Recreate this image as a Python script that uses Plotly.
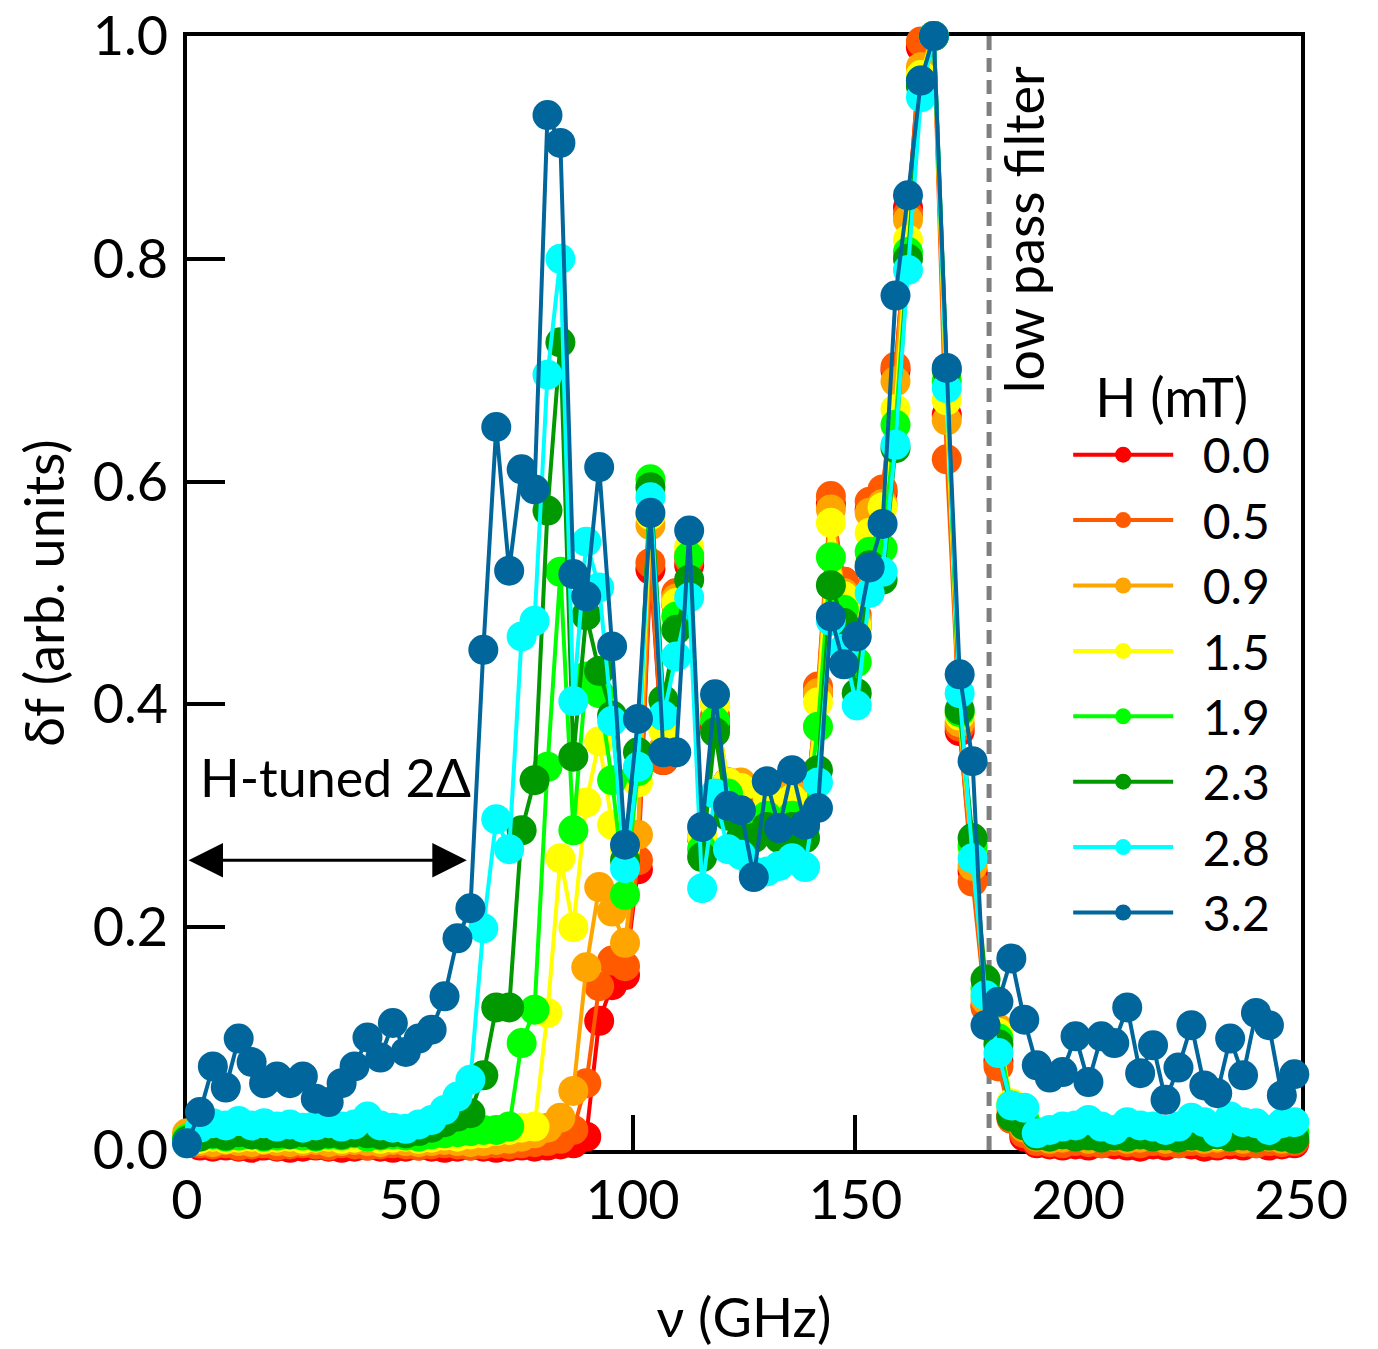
import plotly.graph_objects as go

freq = [0.0, 2.9, 5.8, 8.7, 11.6, 14.5, 17.3, 20.2, 23.1, 26.0,
        28.9, 31.8, 34.7, 37.6, 40.5, 43.4, 46.2, 49.1, 52.0, 54.9,
        57.8, 60.7, 63.6, 66.5, 69.4, 72.3, 75.1, 78.0, 80.9, 83.8,
        86.7, 89.6, 92.5, 95.4, 98.3, 101.2, 104.0, 106.9, 109.8, 112.7,
        115.6, 118.5, 121.4, 124.3, 127.2, 130.1, 132.9, 135.8, 138.7, 141.6,
        144.5, 147.4, 150.3, 153.2, 156.1, 159.0, 161.8, 164.7, 167.6, 170.5,
        173.4, 176.3, 179.2, 182.1, 185.0, 187.9, 190.7, 193.6, 196.5, 199.4,
        202.3, 205.2, 208.1, 211.0, 213.9, 216.8, 219.6, 222.5, 225.4, 228.3,
        231.2, 234.1, 237.0, 239.9, 242.8, 245.7, 248.5]

h_labels = ["0.0", "0.5", "0.9", "1.5", "1.9", "2.3", "2.8", "3.2"]
colors = ["#ff0000", "#ff5a00", "#ffa500", "#ffff00", "#00ff00", "#009900", "#00ffff", "#00669b"]

df_00 = [0.008, 0.004, 0.003, 0.004, 0.003, 0.002, 0.004, 0.003, 0.002, 0.003,
         0.004, 0.003, 0.002, 0.003, 0.004, 0.003, 0.002, 0.003, 0.004, 0.003,
         0.002, 0.003, 0.004, 0.003, 0.002, 0.003, 0.004, 0.003, 0.004, 0.005,
         0.006, 0.012, 0.116, 0.148, 0.157, 0.252, 0.521, 0.350, 0.490, 0.525,
         0.280, 0.380, 0.330, 0.320, 0.300, 0.325, 0.300, 0.320, 0.300, 0.410,
         0.580, 0.510, 0.470, 0.575, 0.590, 0.700, 0.846, 0.990, 1.000, 0.660,
         0.376, 0.250, 0.130, 0.080, 0.030,
         0.012, 0.006, 0.005, 0.004, 0.005, 0.004, 0.006, 0.005, 0.004, 0.003,
         0.005, 0.004, 0.006, 0.005, 0.003, 0.004, 0.005, 0.004, 0.006, 0.004,
         0.005, 0.006]

df_05 = [0.010, 0.006, 0.005, 0.006, 0.004, 0.005, 0.006, 0.004, 0.005, 0.006,
         0.005, 0.004, 0.006, 0.005, 0.004, 0.005, 0.006, 0.005, 0.004, 0.005,
         0.006, 0.005, 0.004, 0.005, 0.006, 0.005, 0.006, 0.007, 0.008, 0.010,
         0.018, 0.060, 0.147, 0.170, 0.165, 0.260, 0.527, 0.350, 0.500, 0.530,
         0.280, 0.390, 0.330, 0.325, 0.310, 0.330, 0.305, 0.325, 0.300, 0.416,
         0.587, 0.510, 0.480, 0.582, 0.593, 0.703, 0.840, 0.995, 1.000, 0.620,
         0.380, 0.241, 0.128, 0.075, 0.028,
         0.015, 0.008, 0.007, 0.006, 0.008, 0.007, 0.006, 0.008, 0.007, 0.006,
         0.008, 0.007, 0.006, 0.008, 0.007, 0.006, 0.008, 0.007, 0.006, 0.008,
         0.007, 0.008]

df_09 = [0.015, 0.008, 0.007, 0.009, 0.008, 0.007, 0.009, 0.008, 0.007, 0.008,
         0.009, 0.007, 0.008, 0.009, 0.008, 0.007, 0.009, 0.008, 0.007, 0.008,
         0.009, 0.008, 0.007, 0.008, 0.009, 0.010, 0.012, 0.015, 0.020, 0.029,
         0.053, 0.164, 0.236, 0.214, 0.186, 0.283, 0.561, 0.360, 0.495, 0.535,
         0.280, 0.400, 0.330, 0.330, 0.300, 0.320, 0.300, 0.320, 0.300, 0.410,
         0.575, 0.500, 0.475, 0.572, 0.580, 0.690, 0.835, 0.972, 1.000, 0.655,
         0.384, 0.255, 0.135, 0.109, 0.035,
         0.020, 0.012, 0.010, 0.011, 0.012, 0.010, 0.011, 0.012, 0.010, 0.011,
         0.012, 0.010, 0.011, 0.012, 0.010, 0.011, 0.012, 0.010, 0.011, 0.012,
         0.010, 0.012]

df_15 = [0.010, 0.010, 0.012, 0.010, 0.011, 0.012, 0.010, 0.011, 0.012, 0.010,
         0.011, 0.012, 0.010, 0.011, 0.012, 0.010, 0.011, 0.012, 0.010, 0.011,
         0.013, 0.012, 0.014, 0.015, 0.017, 0.018, 0.020, 0.021, 0.123, 0.262,
         0.200, 0.312, 0.367, 0.292, 0.270, 0.330, 0.570, 0.377, 0.491, 0.541,
         0.282, 0.400, 0.330, 0.325, 0.300, 0.320, 0.300, 0.315, 0.300, 0.402,
         0.563, 0.497, 0.470, 0.554, 0.577, 0.665, 0.817, 0.965, 1.000, 0.673,
         0.390, 0.270, 0.140, 0.105, 0.042,
         0.025, 0.015, 0.013, 0.014, 0.015, 0.013, 0.014, 0.016, 0.013, 0.015,
         0.014, 0.013, 0.015, 0.014, 0.016, 0.013, 0.015, 0.014, 0.013, 0.015,
         0.014, 0.015]

df_19 = [0.010, 0.013, 0.014, 0.012, 0.013, 0.014, 0.012, 0.013, 0.015, 0.013,
         0.012, 0.014, 0.013, 0.015, 0.012, 0.013, 0.014, 0.013, 0.012, 0.014,
         0.015, 0.016, 0.017, 0.018, 0.018, 0.021, 0.096, 0.126, 0.344, 0.519,
         0.287, 0.425, 0.410, 0.332, 0.229, 0.340, 0.602, 0.390, 0.479, 0.533,
         0.270, 0.385, 0.320, 0.300, 0.290, 0.300, 0.290, 0.300, 0.290, 0.380,
         0.532, 0.485, 0.438, 0.537, 0.540, 0.651, 0.806, 0.960, 1.000, 0.690,
         0.393, 0.273, 0.145, 0.100, 0.040,
         0.028, 0.016, 0.015, 0.017, 0.016, 0.015, 0.017, 0.016, 0.015, 0.017,
         0.016, 0.015, 0.017, 0.016, 0.015, 0.017, 0.016, 0.015, 0.017, 0.016,
         0.015, 0.016]

df_23 = [0.008, 0.012, 0.015, 0.013, 0.016, 0.014, 0.013, 0.015, 0.014, 0.016,
         0.013, 0.015, 0.014, 0.016, 0.015, 0.014, 0.016, 0.015, 0.017, 0.020,
         0.025, 0.030, 0.033, 0.067, 0.128, 0.128, 0.287, 0.332, 0.574, 0.725,
         0.353, 0.480, 0.430, 0.390, 0.260, 0.357, 0.595, 0.404, 0.467, 0.512,
         0.263, 0.375, 0.300, 0.280, 0.280, 0.290, 0.280, 0.290, 0.280, 0.341,
         0.507, 0.473, 0.410, 0.525, 0.512, 0.630, 0.800, 0.955, 1.000, 0.700,
         0.395, 0.280, 0.153, 0.095, 0.030,
         0.022, 0.013, 0.012, 0.014, 0.012, 0.013, 0.011, 0.013, 0.012, 0.014,
         0.012, 0.013, 0.011, 0.013, 0.012, 0.014, 0.012, 0.013, 0.011, 0.013,
         0.012, 0.010]

df_28 = [0.006, 0.020, 0.024, 0.022, 0.026, 0.022, 0.024, 0.021, 0.023, 0.020,
         0.022, 0.024, 0.021, 0.023, 0.030, 0.022, 0.020, 0.019, 0.023, 0.027,
         0.036, 0.048, 0.063, 0.199, 0.297, 0.270, 0.461, 0.475, 0.696, 0.800,
         0.403, 0.546, 0.505, 0.385, 0.253, 0.344, 0.586, 0.390, 0.443, 0.496,
         0.235, 0.320, 0.270, 0.265, 0.250, 0.250, 0.255, 0.262, 0.254, 0.330,
         0.475, 0.450, 0.399, 0.500, 0.519, 0.633, 0.790, 0.945, 1.000, 0.684,
         0.410, 0.262, 0.139, 0.087,
         0.040, 0.038, 0.015, 0.018, 0.021, 0.022, 0.027, 0.021, 0.018, 0.025,
         0.022, 0.021, 0.018, 0.021, 0.029, 0.025, 0.016, 0.030, 0.025, 0.024,
         0.018, 0.024, 0.025]

df_32 = [0.006, 0.034, 0.075, 0.056, 0.100, 0.079, 0.060, 0.066, 0.060, 0.066,
         0.046, 0.043, 0.060, 0.075, 0.101, 0.083, 0.114, 0.088, 0.100, 0.108,
         0.138, 0.190, 0.217, 0.449, 0.649, 0.520, 0.611, 0.593, 0.929, 0.904,
         0.517, 0.497, 0.613, 0.452, 0.274, 0.387, 0.572, 0.357, 0.357, 0.556,
         0.290, 0.409, 0.309, 0.305, 0.245, 0.331, 0.289, 0.341, 0.292, 0.307,
         0.479, 0.436, 0.461, 0.523, 0.562, 0.767, 0.857, 0.960, 1.000, 0.702,
         0.427, 0.349, 0.112, 0.133, 0.172, 0.117, 0.076, 0.065, 0.070, 0.102,
         0.061, 0.102, 0.096, 0.128, 0.069, 0.094, 0.045, 0.074, 0.112, 0.058,
         0.051, 0.100, 0.067, 0.123, 0.112, 0.049, 0.068]

series = [df_00, df_05, df_09, df_15, df_19, df_23, df_28, df_32]

FONT = "Lato, 'Liberation Sans', Arial, sans-serif"
NBSP = "\u00a0\u00a0"

fig = go.Figure()
for lab, col, ys in zip(h_labels, colors, series):
    fig.add_trace(go.Scatter(
        x=freq, y=ys, mode="lines+markers", name=NBSP + lab,
        line=dict(color=col, width=4),
        marker=dict(color=col, size=30, line=dict(width=0)),
        cliponaxis=False,
    ))

# low pass filter line
fig.add_shape(type="line", x0=180, x1=180, y0=0, y1=1, xref="x", yref="y",
              line=dict(color="#7f7f7f", width=5, dash="14px,8px"), layer="below")

fig.add_annotation(x=187.7, y=0.826, xref="x", yref="y", text="low pass filter",
                   textangle=-90, showarrow=False,
                   font=dict(family=FONT, size=54, color="black"))

fig.add_annotation(x=2.5, y=0.335, xref="x", yref="y", text="H-tuned 2Δ",
                   xanchor="left", showarrow=False,
                   font=dict(family=FONT, size=52, color="black"))

fig.add_annotation(x=62.8, y=0.26, ax=0, ay=0.26, xref="x", yref="y",
                   axref="x", ayref="y", text="", showarrow=True,
                   arrowhead=2, arrowside="end+start", arrowsize=2.3,
                   arrowwidth=3, arrowcolor="black", standoff=0, startstandoff=0)

fig.update_layout(
    width=1378, height=1349,
    margin=dict(l=187, r=77, t=36, b=199),
    paper_bgcolor="white", plot_bgcolor="white",
    font=dict(family=FONT, size=54, color="black"),
    showlegend=True,
    legend=dict(
        title=dict(text="H (mT)", side="top center", font=dict(size=54)),
        x=0.791, y=0.721, xanchor="left", yanchor="top",
        bgcolor="rgba(0,0,0,0)", borderwidth=0,
        font=dict(size=48), itemwidth=100, tracegroupgap=0,
    ),
    xaxis=dict(
        range=[0, 250], tickvals=[0, 50, 100, 150, 200, 250],
        ticks="inside", ticklen=35, tickwidth=4, tickcolor="black",
        showline=True, linewidth=4, linecolor="black", mirror=True,
        showgrid=False, zeroline=False, automargin=False, layer="below traces",
        title=dict(text="ν (GHz)", standoff=70, font=dict(size=54)),
        ticklabelstandoff=0,
        tickfont=dict(size=54),
    ),
    yaxis=dict(
        range=[0, 1.0], tickvals=[0, 0.2, 0.4, 0.6, 0.8, 1.0],
        tickformat=".1f",
        ticks="inside", ticklen=38, tickwidth=4, tickcolor="black",
        showline=True, linewidth=4, linecolor="black", mirror=True,
        showgrid=False, zeroline=False, automargin=False, layer="below traces",
        title=dict(text="δf (arb. units)", standoff=12, font=dict(size=54)),
        ticklabelstandoff=4,
        tickfont=dict(size=54),
    ),
)

fig.write_html("out.html")
